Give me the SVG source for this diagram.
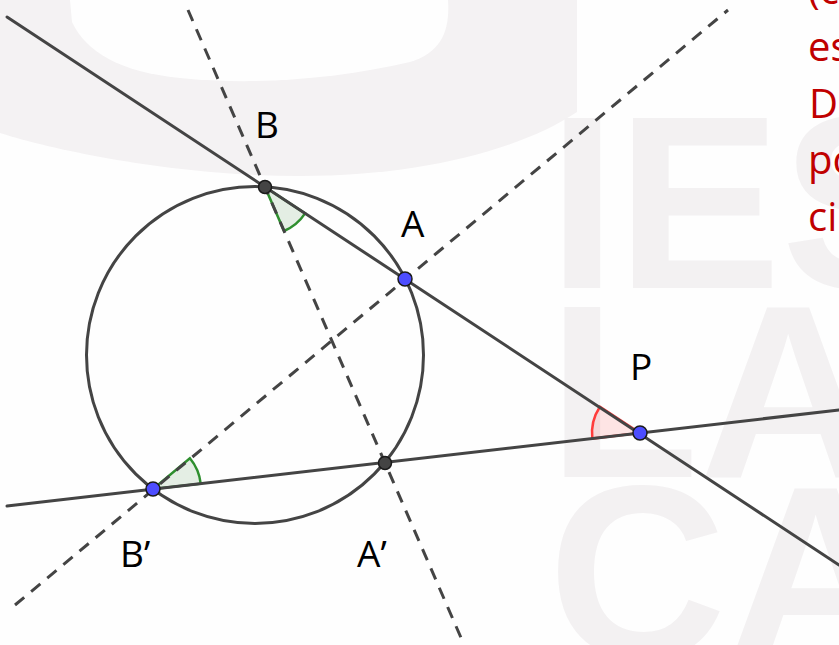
<svg xmlns="http://www.w3.org/2000/svg" width="839" height="645" viewBox="0 0 839 645">
  <style>
    .ln { stroke: #444; stroke-width: 3; fill: none; stroke-linecap: round; }
    .dash { stroke: #444; stroke-width: 3; fill: none; stroke-dasharray: 12 9; }
    .ptb { fill: #4d4dff; stroke: #1a1a1a; stroke-width: 1.5; }
    .ptd { fill: #444; stroke: #1a1a1a; stroke-width: 1.5; }
    .lbl { font-family: "Open Sans", "Liberation Sans", sans-serif; font-size: 37px; fill: #000; }
    .red { font-family: "Open Sans", "Liberation Sans", sans-serif; font-size: 40px; fill: #c00000; }
    .wm { font-family: "Liberation Sans", sans-serif; font-weight: bold; font-size: 247px; fill: #f3f1f2; }
    .angg { fill: #006400; fill-opacity: 0.1; stroke: #2f8f2f; stroke-width: 2.5; }
    .angr { fill: #ff0000; fill-opacity: 0.1; stroke: #ff3b3b; stroke-width: 2.5; }
  </style>
  <rect width="839" height="645" fill="#fefefe"/>
  <g id="watermark">
    <path d="M0,0 L577,0 L577,112 C520,150 420,176 300,176 C180,176 60,152 0,133 Z" fill="#f4f2f3"/>
    <path d="M70,0 L448,0 C450,30 442,52 410,62 C340,78 260,86 180,78 C120,72 86,52 72,22 Z" fill="#fefefe"/>
    <text class="wm" x="548" y="288">IES</text>
    <text class="wm" x="548" y="477">LA</text>
    <text class="wm" x="548" y="658">CA</text>
  </g>
  <g id="angles">
    <path class="angg" d="M265,187 L305.1,213.4 A48,48 0 0 1 284.1,231 Z"/>
    <path class="angg" d="M153,489 L200.7,483.7 A48,48 0 0 0 189.9,458.3 Z"/>
    <path class="angr" d="M640,433 L599.9,406.7 A48,48 0 0 0 592.3,438.5 Z"/>
  </g>
  <g id="connectors">
    <line class="ln" x1="7" y1="17" x2="839" y2="565"/>
    <line class="ln" x1="7" y1="506" x2="839" y2="410"/>
    <line class="dash" x1="188" y1="10" x2="462" y2="640"/>
    <line class="dash" x1="15" y1="605" x2="728" y2="10"/>
  </g>
  <g id="circle">
    <circle cx="255" cy="355" r="168.5" class="ln"/>
  </g>
  <g id="B">
    <circle class="ptd" cx="265" cy="187" r="6.5"/>
    <text class="lbl" x="255" y="138">B</text>
  </g>
  <g id="A">
    <circle class="ptb" cx="405" cy="279" r="7"/>
    <text class="lbl" x="401" y="237">A</text>
  </g>
  <g id="P">
    <circle class="ptb" cx="640" cy="433" r="7"/>
    <text class="lbl" x="630" y="380">P</text>
  </g>
  <g id="Bprime">
    <circle class="ptb" cx="153" cy="489" r="7"/>
    <text class="lbl" x="120" y="567">B’</text>
  </g>
  <g id="Aprime">
    <circle class="ptd" cx="385" cy="463" r="6.5"/>
    <text class="lbl" x="357" y="567">A’</text>
  </g>
  <g id="redtext">
    <text class="red" x="808" y="4">(c</text>
    <text class="red" x="808" y="61">es</text>
    <text class="red" x="809" y="118">D</text>
    <text class="red" x="808" y="174">po</text>
    <text class="red" x="808" y="231">ci</text>
  </g>
</svg>
